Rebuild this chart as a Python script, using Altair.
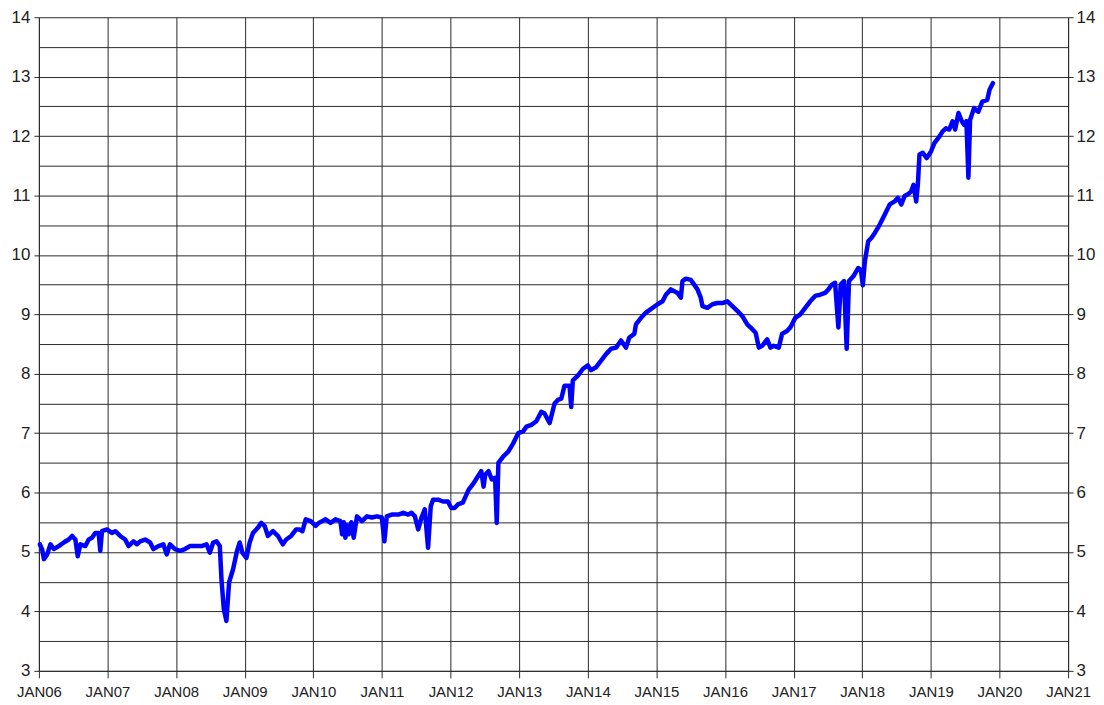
import altair as alt
import pandas as pd

# decimal year of each observation
years = [
    2006.015, 2006.048, 2006.073, 2006.121, 2006.169, 2006.218, 2006.290, 2006.363, 2006.435, 2006.484,
    2006.532, 2006.566, 2006.605, 2006.677, 2006.726, 2006.774, 2006.822, 2006.871, 2006.895, 2006.919,
    2006.992, 2007.064, 2007.113, 2007.185, 2007.258, 2007.306, 2007.379, 2007.427, 2007.476, 2007.548,
    2007.621, 2007.669, 2007.742, 2007.814, 2007.863, 2007.911, 2007.984, 2008.056, 2008.129, 2008.201,
    2008.298, 2008.371, 2008.443, 2008.492, 2008.540, 2008.588, 2008.637, 2008.661, 2008.695, 2008.733,
    2008.772, 2008.830, 2008.888, 2008.927, 2008.966, 2009.024, 2009.072, 2009.120, 2009.193, 2009.241,
    2009.290, 2009.338, 2009.411, 2009.483, 2009.556, 2009.604, 2009.677, 2009.749, 2009.798, 2009.841,
    2009.889, 2009.961, 2010.034, 2010.082, 2010.178, 2010.251, 2010.323, 2010.395, 2010.419, 2010.443,
    2010.467, 2010.492, 2010.516, 2010.554, 2010.588, 2010.636, 2010.708, 2010.781, 2010.853, 2010.925,
    2010.998, 2011.036, 2011.070, 2011.142, 2011.239, 2011.311, 2011.383, 2011.431, 2011.480, 2011.528,
    2011.576, 2011.624, 2011.672, 2011.711, 2011.745, 2011.817, 2011.889, 2011.961, 2012.010, 2012.058,
    2012.106, 2012.178, 2012.264, 2012.337, 2012.385, 2012.447, 2012.481, 2012.505, 2012.553, 2012.601,
    2012.649, 2012.673, 2012.697, 2012.769, 2012.841, 2012.913, 2012.986, 2013.058, 2013.106, 2013.178,
    2013.250, 2013.322, 2013.370, 2013.443, 2013.516, 2013.564, 2013.613, 2013.661, 2013.734, 2013.758,
    2013.782, 2013.855, 2013.927, 2014.000, 2014.048, 2014.121, 2014.194, 2014.266, 2014.339, 2014.412,
    2014.484, 2014.557, 2014.605, 2014.678, 2014.702, 2014.775, 2014.847, 2014.944, 2015.017, 2015.090,
    2015.138, 2015.211, 2015.308, 2015.356, 2015.380, 2015.429, 2015.501, 2015.550, 2015.598, 2015.646,
    2015.671, 2015.743, 2015.816, 2015.889, 2015.961, 2016.034, 2016.107, 2016.179, 2016.252, 2016.324,
    2016.397, 2016.446, 2016.493, 2016.541, 2016.614, 2016.662, 2016.710, 2016.783, 2016.831, 2016.903,
    2016.952, 2017.024, 2017.097, 2017.169, 2017.242, 2017.314, 2017.386, 2017.459, 2017.507, 2017.556,
    2017.604, 2017.652, 2017.686, 2017.734, 2017.773, 2017.807, 2017.870, 2017.942, 2017.980, 2018.008,
    2018.039, 2018.087, 2018.135, 2018.183, 2018.255, 2018.328, 2018.400, 2018.472, 2018.520, 2018.569,
    2018.617, 2018.665, 2018.713, 2018.747, 2018.786, 2018.810, 2018.834, 2018.882, 2018.940, 2019.002,
    2019.051, 2019.123, 2019.171, 2019.219, 2019.267, 2019.316, 2019.354, 2019.402, 2019.451, 2019.484,
    2019.518, 2019.547, 2019.571, 2019.629, 2019.692, 2019.749, 2019.822, 2019.855, 2019.904,
]

values = [
    5.13, 5.04, 4.88, 4.96, 5.13, 5.05, 5.10, 5.16, 5.21, 5.27,
    5.21, 4.93, 5.13, 5.10, 5.21, 5.24, 5.32, 5.32, 5.02, 5.35,
    5.38, 5.32, 5.35, 5.27, 5.21, 5.10, 5.18, 5.13, 5.18, 5.21,
    5.16, 5.05, 5.10, 5.13, 4.96, 5.13, 5.05, 5.02, 5.05, 5.10,
    5.10, 5.10, 5.13, 4.99, 5.16, 5.18, 5.10, 4.54, 4.04, 3.84,
    4.49, 4.71, 5.02, 5.16, 4.99, 4.90, 5.16, 5.32, 5.41, 5.49,
    5.44, 5.27, 5.35, 5.27, 5.13, 5.21, 5.27, 5.38, 5.38, 5.35,
    5.55, 5.52, 5.44, 5.49, 5.55, 5.49, 5.55, 5.52, 5.30, 5.50,
    5.24, 5.45, 5.30, 5.50, 5.24, 5.60, 5.52, 5.60, 5.58, 5.60,
    5.58, 5.18, 5.60, 5.63, 5.63, 5.66, 5.63, 5.66, 5.60, 5.38,
    5.58, 5.72, 5.07, 5.77, 5.88, 5.88, 5.85, 5.85, 5.74, 5.74,
    5.80, 5.83, 6.05, 6.16, 6.25, 6.36, 6.10, 6.30, 6.36, 6.22,
    6.25, 5.49, 6.50, 6.61, 6.69, 6.83, 7.00, 7.03, 7.11, 7.14,
    7.20, 7.36, 7.33, 7.17, 7.50, 7.56, 7.58, 7.80, 7.80, 7.44,
    7.89, 7.97, 8.08, 8.14, 8.06, 8.11, 8.22, 8.33, 8.42, 8.44,
    8.56, 8.44, 8.61, 8.67, 8.83, 8.94, 9.03, 9.11, 9.17, 9.22,
    9.33, 9.42, 9.36, 9.28, 9.56, 9.60, 9.58, 9.50, 9.42, 9.28,
    9.14, 9.11, 9.17, 9.19, 9.19, 9.22, 9.14, 9.06, 8.97, 8.83,
    8.75, 8.69, 8.44, 8.47, 8.58, 8.44, 8.47, 8.44, 8.67, 8.72,
    8.78, 8.94, 9.00, 9.11, 9.22, 9.31, 9.33, 9.36, 9.42, 9.50,
    9.53, 8.78, 9.50, 9.56, 8.42, 9.56, 9.64, 9.78, 9.75, 9.49,
    9.90, 10.23, 10.29, 10.37, 10.51, 10.68, 10.85, 10.90, 10.96, 10.85,
    10.99, 11.02, 11.07, 11.18, 10.90, 11.18, 11.69, 11.72, 11.63, 11.74,
    11.88, 11.99, 12.08, 12.13, 12.11, 12.25, 12.11, 12.39, 12.25, 12.19,
    12.25, 11.30, 12.27, 12.47, 12.41, 12.58, 12.61, 12.78, 12.89,
]

x_ticks = list(range(2006, 2022))
y_labels = [3, 4, 5, 6, 7, 8, 9, 10, 11, 12, 13, 14]
y_grid = [3, 3.5, 4, 4.5, 5, 5.5, 6, 6.5, 7, 7.5, 8, 8.5, 9, 9.5, 10, 10.5,
          11, 11.5, 12, 12.5, 13, 13.5, 14]

df = pd.DataFrame({"t": years, "v": values})

FONT = "Liberation Sans"
GRID = "#2a2a2a"

xscale = alt.Scale(domain=[2006, 2021], nice=False, zero=False)
yscale = alt.Scale(domain=[3, 14], nice=False, zero=False)

x_axis = alt.Axis(
    values=x_ticks,
    labelExpr="'JAN' + substring(toString(datum.value), 2, 4)",
    grid=True, gridColor=GRID, gridWidth=1,
    domainColor=GRID, tickColor=GRID, tickSize=7,
    labelFont=FONT, labelFontSize=15, labelColor="#222", labelPadding=7,
    labelOverlap=False, labelFlush=False, title=None,
)

left_axis = alt.Axis(
    values=y_grid, orient="left",
    labelExpr="datum.value % 1 ? '' : format(datum.value, 'd')",
    grid=True, gridColor=GRID, gridWidth=1,
    domainColor=GRID, tickColor=GRID, tickSize=5,
    tickOpacity={"condition": {"test": "datum.value % 1 != 0", "value": 0}, "value": 1},
    labelFont=FONT, labelFontSize=17, labelColor="#222", labelPadding=4,
    labelOverlap=False, title=None,
)

right_axis = alt.Axis(
    values=y_labels, orient="right", grid=False,
    domainColor=GRID, tickColor=GRID, tickSize=5,
    labelFont=FONT, labelFontSize=17, labelColor="#222", labelPadding=3,
    labelOverlap=False, title=None,
)

line = alt.Chart(df).mark_line(color="#0000ff", strokeWidth=4.5, strokeJoin="round", strokeCap="round").encode(
    x=alt.X("t:Q", scale=xscale, axis=x_axis),
    y=alt.Y("v:Q", scale=yscale, axis=left_axis),
)

right = alt.Chart(df).mark_line(strokeOpacity=0).encode(
    x=alt.X("t:Q", scale=xscale, axis=x_axis),
    y=alt.Y("v:Q", scale=yscale, axis=right_axis),
)

chart = alt.layer(line, right).resolve_axis(y="independent").properties(
    width=1033, height=656,
    autosize=alt.AutoSizeParams(type="none"),
    padding={"left": 31, "top": 8, "right": 28, "bottom": 33},
    background="white",
).configure_view(stroke=None)

chart.save("out.html", embed_options={"renderer": "svg", "actions": False})
